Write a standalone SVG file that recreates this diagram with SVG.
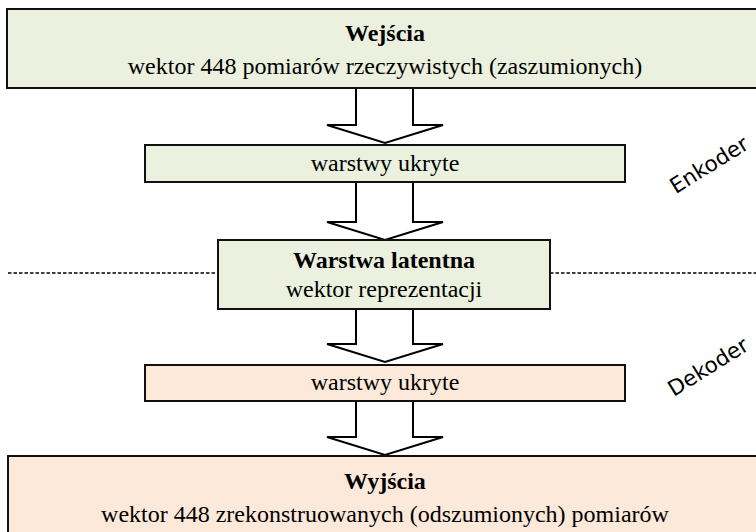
<svg xmlns="http://www.w3.org/2000/svg" width="756" height="532" viewBox="0 0 756 532">
  <defs>
    <style>
      .box { stroke: #111; stroke-width: 2; }
      .enc { fill: #ebf1de; }
      .dec { fill: #fde9d9; }
      .serif { font-family: 'Liberation Serif', 'DejaVu Serif', serif; font-size: 24px; fill: #000; text-anchor: middle; }
      .bold { font-weight: bold; }
      .arrow { fill: #fff; stroke: #000; stroke-width: 2; stroke-linejoin: miter; }
      .side { font-family: 'DejaVu Sans', sans-serif; font-size: 21.5px; fill: #000; text-anchor: middle; }
      .sep { stroke: #000; stroke-width: 1.5; stroke-dasharray: 3.5 2; fill: none; }
    </style>
  </defs>

  <rect width="756" height="532" fill="#fff"/>

  <!-- encoder / decoder separator -->
  <g id="separator">
    <line class="sep" x1="8" y1="273" x2="218" y2="273"/>
    <line class="sep" x1="550" y1="273" x2="756" y2="273"/>
  </g>

  <!-- block arrows between the layers -->
  <g id="connectors">
    <path class="arrow" d="M356,88 V125 H327 L385,143 L443,125 H413 V88"/>
    <path class="arrow" d="M356,182 V222 H327 L385,240 L443,222 H413 V182"/>
    <path class="arrow" d="M356,309 V344 H327 L385,362 L443,344 H413 V309"/>
    <path class="arrow" d="M356,401 V437 H327 L385,455 L443,437 H413 V401"/>
  </g>

  <g id="inputs">
    <rect class="box enc" x="7" y="9" width="760" height="79"/>
    <text class="serif bold" x="385" y="41">Wejścia</text>
    <text class="serif" x="385" y="74">wektor 448 pomiarów rzeczywistych (zaszumionych)</text>
  </g>

  <g id="hidden-encoder">
    <rect class="box enc" x="145" y="145" width="480" height="37"/>
    <text class="serif" x="385" y="171">warstwy ukryte</text>
  </g>

  <g id="latent">
    <rect class="box enc" x="218" y="240" width="332" height="69"/>
    <text class="serif bold" x="384" y="268">Warstwa latentna</text>
    <text class="serif" x="384" y="297">wektor reprezentacji</text>
  </g>

  <g id="hidden-decoder">
    <rect class="box dec" x="145" y="365" width="480" height="36"/>
    <text class="serif" x="385" y="390">warstwy ukryte</text>
  </g>

  <g id="outputs">
    <rect class="box dec" x="8" y="456" width="760" height="90"/>
    <text class="serif bold" x="385" y="489">Wyjścia</text>
    <text class="serif" x="385" y="522">wektor 448 zrekonstruowanych (odszumionych) pomiarów</text>
  </g>

  <g id="labels">
    <text class="side" transform="translate(713,171) rotate(-32)">Enkoder</text>
    <text class="side" transform="translate(712,373) rotate(-32)">Dekoder</text>
  </g>
</svg>
